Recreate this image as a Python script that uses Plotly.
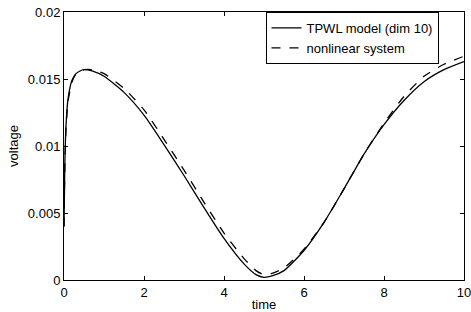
import plotly.graph_objects as go

time_pts = [0, 0.02, 0.05, 0.1, 0.2, 0.3, 0.4, 0.5, 0.7, 1.0, 1.5, 2.0, 2.5, 3.0, 3.5,
            4.0, 4.5, 4.8, 5.0, 5.2, 5.5, 6.0, 6.5, 7.0, 7.5, 8.0, 8.5, 9.0, 9.5, 10.0]
tpwl = [0.0040, 0.0085, 0.0115, 0.0135, 0.0149, 0.0154, 0.0156, 0.0157, 0.0156, 0.0152,
        0.0140, 0.0123, 0.0101, 0.0078, 0.0054, 0.0031, 0.0012, 0.0004, 0.0002, 0.0003,
        0.0007, 0.0022, 0.0043, 0.0068, 0.0094, 0.0116, 0.0134, 0.0148, 0.0157, 0.0163]
nonlinear = [0.0040, 0.0083, 0.0113, 0.0133, 0.0148, 0.0154, 0.0156, 0.0157, 0.0157, 0.0154,
             0.0143, 0.0127, 0.0105, 0.0082, 0.0058, 0.0035, 0.0016, 0.0007, 0.0004, 0.0005,
             0.0009, 0.0023, 0.0043, 0.0068, 0.0094, 0.0117, 0.0137, 0.0152, 0.0161, 0.0167]

x_ticks = [0, 2, 4, 6, 8, 10]
y_ticks = [0, 0.005, 0.01, 0.015, 0.02]
y_tick_labels = ["0", "0.005", "0.01", "0.015", "0.02"]

fig = go.Figure()
fig.add_trace(go.Scatter(x=time_pts, y=tpwl, mode="lines", name="TPWL model (dim 10)",
                         line=dict(color="black", width=1.3, shape="spline", smoothing=0.6)))
fig.add_trace(go.Scatter(x=time_pts, y=nonlinear, mode="lines", name="nonlinear system",
                         line=dict(color="black", width=1.3, dash="dash", shape="spline", smoothing=0.6)))

axis_common = dict(showline=True, linecolor="black", linewidth=1, mirror="ticks",
                   ticks="inside", ticklen=4, tickcolor="black", showgrid=False, zeroline=False,
                   automargin=False, ticklabeloverflow="allow",
                   tickfont=dict(size=13, color="black"))
fig.update_xaxes(range=[0, 10], tickvals=x_ticks, title=dict(text="time", standoff=2, font=dict(size=13)),
                 **axis_common)
fig.update_yaxes(range=[0, 0.02], tickvals=y_ticks, ticktext=y_tick_labels,
                 title=dict(text="voltage", standoff=6, font=dict(size=13)), **axis_common)

fig.update_layout(
    width=471, height=312,
    margin=dict(l=64, r=7, t=12, b=32),
    paper_bgcolor="white", plot_bgcolor="white",
    font=dict(family="Liberation Sans, Arial, sans-serif", size=13, color="black"),
    showlegend=True,
    legend=dict(x=0.72, y=0.903, xanchor="center", yanchor="middle",
                bgcolor="white", bordercolor="black", borderwidth=1,
                font=dict(size=13), tracegroupgap=0, itemwidth=30),
)
fig.write_html("out.html", config={"displayModeBar": False},
               post_script="document.body.style.margin='0';document.body.style.overflow='hidden';")
